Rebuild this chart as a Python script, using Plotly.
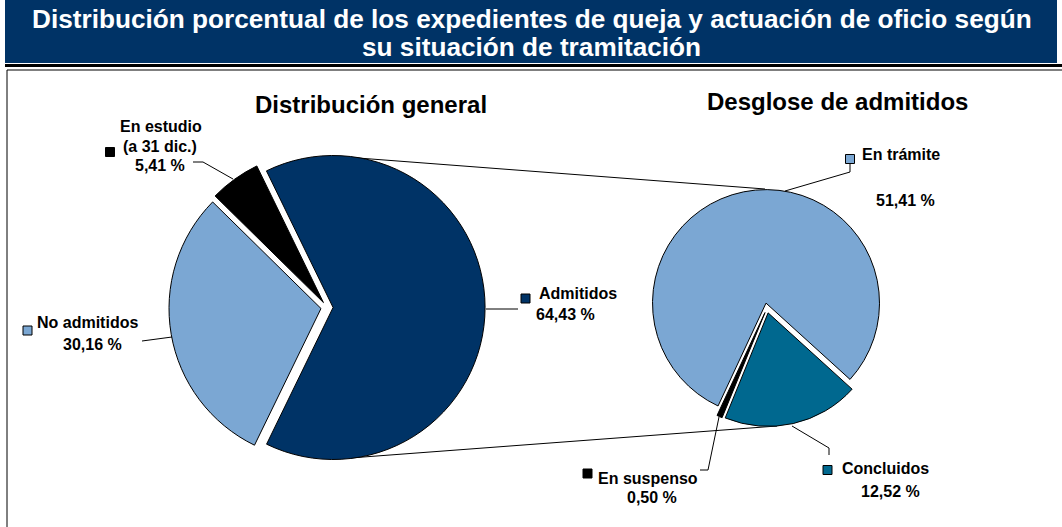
import plotly.graph_objects as go

W, H = 1062, 527

# ── Data ──────────────────────────────────────────────────────────────────────
TITLE_LINES = [
    "Distribución porcentual de los expedientes de queja y actuación de oficio según",
    "su situación de tramitación",
]
GENERAL_TITLE = "Distribución general"
GENERAL_NAMES = ["Admitidos", "No admitidos", "En estudio<br>(a 31 dic.)"]
GENERAL_VALUES = [64.43, 30.16, 5.41]

DETAIL_TITLE = "Desglose de admitidos"
DETAIL_NAMES = ["En trámite", "Concluidos", "En suspenso"]
DETAIL_VALUES = [51.41, 12.52, 0.50]

# ── Style ─────────────────────────────────────────────────────────────────────
NAVY = "#003366"
LIGHT = "#7BA7D3"
TEAL = "#00688F"
BLACK = "#000000"
GENERAL_COLORS = [NAVY, LIGHT, BLACK]
DETAIL_COLORS = [LIGHT, TEAL, BLACK]
FONT = "Liberation Sans, Arial, sans-serif"

# pie geometry in pixels
GEN_PIE = dict(cx=327, cy=307.5, r=152, pull=0.04, rotation=-26)
DET_PIE = dict(cx=767, cy=308, r=113.5, pull=0.044, rotation=205)

# label placement in pixels: name line centres, value centre, key square, leader polyline
GEN_LABELS = [
    dict(name=[(578, 293)], value=(565, 314), key=(525.5, 298.5),
         leader=[(486, 309), (518, 309)]),
    dict(name=[(87.5, 322)], value=(92, 344), key=(27.5, 330.5),
         leader=[(142, 341), (172, 337)]),
    dict(name=[(161, 127), (160, 146)], value=(160, 165), key=(110, 152),
         leader=[(193, 162), (203, 162), (233, 179)]),
]
DET_LABELS = [
    dict(name=[(900.5, 154)], value=(905, 200), key=(850, 159),
         leader=[(785, 191), (850, 172), (850, 163)]),
    dict(name=[(885, 468)], value=(890.5, 491), key=(827.5, 470),
         leader=[(792, 426), (829, 448), (829, 455)]),
    dict(name=[(647.5, 478)], value=(652, 497), key=(587.5, 473.5),
         leader=[(700, 470), (708, 470), (719, 417)]),
]
CONNECTORS = [[(345, 157), (765, 189)], [(350, 458), (777, 426)]]


def fx(x):
    return x / W


def fy(y):
    return 1 - y / H


def pie_domain(p):
    half = p["r"] * (1 + p["pull"])
    return dict(x=[fx(p["cx"] - half), fx(p["cx"] + half)],
                y=[fy(p["cy"] + half), fy(p["cy"] - half)])


def path(points):
    return "M " + " L ".join(f"{fx(x)},{fy(y)}" for x, y in points)


def pct(v):
    return f"{v:.2f}".replace(".", ",") + " %"


def pie_trace(names, values, colors, geo):
    return go.Pie(
        labels=names, values=values, sort=False, direction="clockwise",
        rotation=geo["rotation"], pull=[geo["pull"]] * len(values),
        marker=dict(colors=colors, line=dict(color="black", width=1)),
        textinfo="none", hoverinfo="label+value", showlegend=False,
        domain=pie_domain(geo),
    )


fig = go.Figure()
fig.add_trace(pie_trace(GENERAL_NAMES, GENERAL_VALUES, GENERAL_COLORS, GEN_PIE))
fig.add_trace(pie_trace(DETAIL_NAMES, DETAIL_VALUES, DETAIL_COLORS, DET_PIE))

shapes = [
    dict(type="rect", xref="paper", yref="paper", x0=fx(5), x1=fx(1057), y0=fy(63), y1=fy(0),
         fillcolor=NAVY, line=dict(width=0), layer="below"),
    dict(type="line", xref="paper", yref="paper", x0=fx(5), x1=fx(1062), y0=fy(65.5), y1=fy(65.5),
         line=dict(color="black", width=3), layer="below"),
    dict(type="path", xref="paper", yref="paper", path=path([(7, 530), (7, 70), (1062, 70)]),
         line=dict(color="black", width=1), layer="below"),
]
for seg in CONNECTORS:
    shapes.append(dict(type="path", xref="paper", yref="paper", path=path(seg),
                       line=dict(color="black", width=1), layer="below"))

annotations = []
for i, line in enumerate(TITLE_LINES):
    annotations.append(dict(x=fx(531.5), y=fy(18.5 + 28 * i), text=line, showarrow=False,
                            xref="paper", yref="paper", xanchor="center", yanchor="middle",
                            font=dict(family=FONT, size=26.2, color="white", weight="bold")))
for text, (x, y) in [(GENERAL_TITLE, (370.5, 104)), (DETAIL_TITLE, (837.5, 101))]:
    annotations.append(dict(x=fx(x), y=fy(y), text=text, showarrow=False,
                            xref="paper", yref="paper", xanchor="center", yanchor="middle",
                            font=dict(family=FONT, size=24, color="black", weight="bold")))

for names, values, colors, labels in [
    (GENERAL_NAMES, GENERAL_VALUES, GENERAL_COLORS, GEN_LABELS),
    (DETAIL_NAMES, DETAIL_VALUES, DETAIL_COLORS, DET_LABELS),
]:
    for name, value, color, lab in zip(names, values, colors, labels):
        parts = name.split("<br>")
        for part, (x, y) in zip(parts, lab["name"]):
            annotations.append(dict(x=fx(x), y=fy(y), text=part, showarrow=False,
                                    xref="paper", yref="paper", xanchor="center", yanchor="middle",
                                    font=dict(family=FONT, size=16, color="black", weight="bold")))
        vx, vy = lab["value"]
        annotations.append(dict(x=fx(vx), y=fy(vy), text=pct(value), showarrow=False,
                                xref="paper", yref="paper", xanchor="center", yanchor="middle",
                                font=dict(family=FONT, size=16, color="black", weight="bold")))
        kx, ky = lab["key"]
        shapes.append(dict(type="rect", xref="paper", yref="paper",
                           x0=fx(kx - 4.5), x1=fx(kx + 4.5), y0=fy(ky + 4.5), y1=fy(ky - 4.5),
                           fillcolor=color, line=dict(color="black", width=1)))
        shapes.append(dict(type="path", xref="paper", yref="paper", path=path(lab["leader"]),
                           line=dict(color="black", width=1)))

fig.update_layout(
    width=W, height=H,
    margin=dict(l=0, r=0, t=0, b=0),
    paper_bgcolor="white",
    plot_bgcolor="white",
    font=dict(family=FONT),
    shapes=shapes,
    annotations=annotations,
)

# the page body has a default 8px margin; drop it so the figure sits at (0, 0)
fig.write_html(
    "out.html",
    config={"displayModeBar": False},
    post_script="document.body.style.margin='0';document.body.style.overflow='hidden';",
)
